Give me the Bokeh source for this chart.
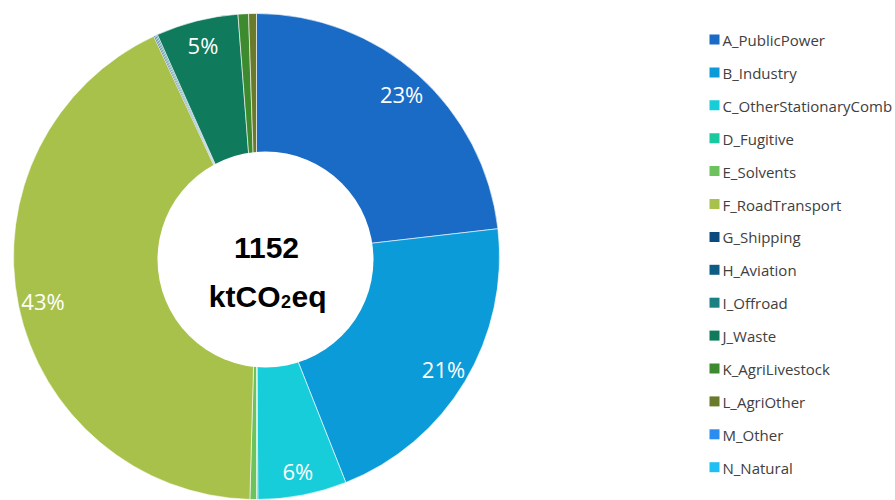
import math
from bokeh.plotting import figure
from bokeh.models import ColumnDataSource, Range1d
from bokeh.core.properties import value
from bokeh.embed import file_html
from bokeh.resources import INLINE

# ---- data ----
categories = ["A_PublicPower", "B_Industry", "C_OtherStationaryComb", "D_Fugitive",
              "E_Solvents", "F_RoadTransport", "G_Shipping", "H_Aviation", "I_Offroad",
              "J_Waste", "K_AgriLivestock", "L_AgriOther", "M_Other", "N_Natural"]
values_kt = [267, 240, 68, 1, 5, 491, 1, 1, 1, 63, 8, 6, 0, 0]
colors = ["#1a6bc6", "#0a9bd8", "#17cdd9", "#1bc9a0", "#6cc35d", "#a8c14b", "#0c4a7e",
          "#0d5c85", "#1a8083", "#0f7a5c", "#3e8b2f", "#6a7a2b", "#2a8def", "#1ebff5"]
total_label = "1152"
unit_parts = ["ktCO", "2", "eq"]

W, H = 895, 500
p = figure(width=W, height=H, output_backend="svg", toolbar_location=None,
           x_range=Range1d(0, W), y_range=Range1d(0, H),
           min_border=0, outline_line_color=None)
p.axis.visible = False
p.grid.visible = False
p.background_fill_color = "white"
p.border_fill_color = "white"

# screen coordinates -> data: x = sx, y = 500 - sy
cx, cy = 256, 500 - 256
R = 243
total = sum(values_kt)

starts, ends, cols = [], [], []
cum = 0.0
for v, c in zip(values_kt, colors):
    f0 = cum / total
    cum += v
    f1 = cum / total
    if v > 0:
        starts.append(math.pi / 2 - 2 * math.pi * f1)
        ends.append(math.pi / 2 - 2 * math.pi * f0)
        cols.append(c)
src = ColumnDataSource(dict(start=starts, end=ends, color=cols))
p.wedge(x=cx, y=cy, radius=R, start_angle="start", end_angle="end",
        fill_color="color", line_color="white", line_width=0.6, source=src)

# percentage labels for larger slices
lx, ly, lt = [], [], []
cum = 0.0
for v in values_kt:
    f0 = cum / total
    cum += v
    f1 = cum / total
    share = v / total
    if share >= 0.04:
        a = math.pi / 2 - 2 * math.pi * (f0 + f1) / 2
        lx.append(cx + 218 * math.cos(a))
        ly.append(cy + 218 * math.sin(a))
        lt.append(f"{round(share * 100)}%")
p.text(x=lx, y=ly, text=lt, text_color="white", text_font=value("Open Sans"),
       text_font_size="22px", text_align="center", text_baseline="middle")

# centre hole with total
p.circle(x=[265], y=[500 - 259], radius=108, fill_color="white", line_color=None)
bold = dict(text_color="black", text_font=value("Liberation Sans"),
            text_font_style="bold", text_baseline="alphabetic")
p.text(x=[266], y=[500 - 247], text=[total_label], text_font_size="30px",
       text_align="center", **bold)
p.text(x=[280], y=[500 - 296], text=[unit_parts[0]], text_font_size="30px",
       text_align="right", **bold)
p.text(x=[280.5], y=[500 - 301], text=[unit_parts[1]], text_font_size="18px",
       text_align="left", **bold)
p.text(x=[291], y=[500 - 296], text=[unit_parts[2]], text_font_size="30px",
       text_align="left", **bold)

# legend (manual)
step = 32.9
leg_y = [500 - (39 + i * step) for i in range(len(categories))]
p.scatter(x=[714] * len(categories), y=leg_y, marker="square", size=10,
          fill_color=colors, line_color=None)
p.text(x=[722] * len(categories), y=[yy - 0.5 for yy in leg_y], text=categories,
       text_color="#404040", text_font=value("Open Sans"), text_font_size="15px",
       text_align="left", text_baseline="middle")

open("out.html", "w").write(file_html(p, INLINE))
